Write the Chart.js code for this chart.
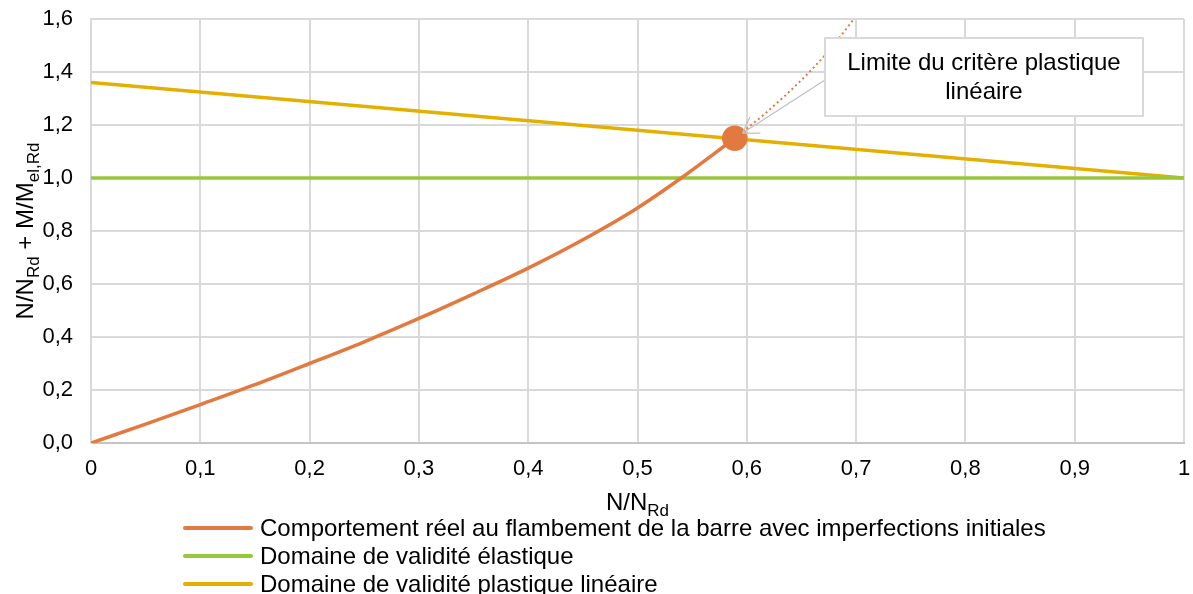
<!DOCTYPE html>
<html>
<head>
<meta charset="utf-8">
<script src="https://cdn.jsdelivr.net/npm/chart.js@4"></script>
<style>
  html, body { margin: 0; padding: 0; background: #fff; }
  #wrap { width: 1193px; height: 594px; }
</style>
</head>
<body>
<div id="wrap"><canvas id="chart" width="1193" height="594"></canvas></div>
<script>
// values
const nRatio = [0, 0.05, 0.1, 0.15, 0.2, 0.25, 0.3, 0.35, 0.4, 0.45, 0.5, 0.54, 0.589];
const realBehaviour = [0, 0.071, 0.145, 0.22, 0.30, 0.382, 0.47, 0.563, 0.66, 0.767, 0.887, 1.0, 1.15];
const extensionX = [0.589, 0.62, 0.65, 0.675, 0.698];
const extensionY = [1.15, 1.255, 1.37, 1.48, 1.6];
const elasticX = [0, 1];
const elasticY = [1, 1];
const plasticX = [0, 1];
const plasticY = [1.36, 1.0];
const seriesLabels = [
  'Comportement réel au flambement de la barre avec imperfections initiales',
  'Domaine de validité élastique',
  'Domaine de validité plastique linéaire'
];
const calloutText = ['Limite du critère plastique', 'linéaire'];
const calloutAt = { x: 0.817, y: 1.381 };

const FONT = '"Liberation Sans", Arial, sans-serif';
const ORANGE = '#E2793F', GREEN = '#96C83C', GOLD = '#E4B000';

function pts(xs, ys) { return xs.map((x, i) => ({ x: x, y: ys[i] })); }
function comma(v, d) { return v.toFixed(d).replace('.', ','); }
function noOverflow(s) { s.paddingTop = 0; s.paddingBottom = 0; s.paddingLeft = 0; s.paddingRight = 0; }

// text made of parts, some subscripted
function partsWidth(ctx, parts) {
  let w = 0;
  parts.forEach(p => { ctx.font = (p.sub ? 17 : 24) + 'px ' + FONT; w += ctx.measureText(p.t).width; });
  return w;
}
function drawParts(ctx, parts, x, y) {
  parts.forEach(p => {
    ctx.font = (p.sub ? 17 : 24) + 'px ' + FONT;
    ctx.fillText(p.t, x, y + (p.sub ? 6 : 0));
    x += ctx.measureText(p.t).width;
  });
}

const extras = {
  id: 'extras',
  afterDraw(chart) {
    const ctx = chart.ctx, area = chart.chartArea;
    const xs = chart.scales.x, ys = chart.scales.y;
    ctx.save();
    ctx.fillStyle = '#000';
    ctx.textBaseline = 'alphabetic';
    ctx.textAlign = 'left';

    // x title
    const xt = [{ t: 'N/N' }, { t: 'Rd', sub: true }];
    drawParts(ctx, xt, (area.left + area.right) / 2 - partsWidth(ctx, xt) / 2, area.bottom + 67);

    // y title
    const yt = [{ t: 'N/N' }, { t: 'Rd', sub: true }, { t: ' + M/M' }, { t: 'el,Rd', sub: true }];
    ctx.save();
    ctx.translate(33, (area.top + area.bottom) / 2);
    ctx.rotate(-Math.PI / 2);
    drawParts(ctx, yt, -partsWidth(ctx, yt) / 2, 0);
    ctx.restore();

    // legend
    const items = chart.data.datasets.filter(d => seriesLabels.includes(d.label));
    items.forEach((d, i) => {
      const yy = area.bottom + 85 + i * 28;
      ctx.strokeStyle = d.borderColor;
      ctx.lineWidth = 4;
      ctx.lineCap = 'round';
      ctx.beginPath();
      ctx.moveTo(185, yy);
      ctx.lineTo(251, yy);
      ctx.stroke();
      ctx.font = '24px ' + FONT;
      ctx.textBaseline = 'middle';
      ctx.fillText(d.label, 260, yy + 1);
    });

    // callout box with leader to the limit point
    const last = realBehaviour.length - 1;
    const px = xs.getPixelForValue(nRatio[last]), py = ys.getPixelForValue(realBehaviour[last]);
    const cx = xs.getPixelForValue(calloutAt.x), cy = ys.getPixelForValue(calloutAt.y);
    const bw = 318, bh = 78;
    const bx = cx - bw / 2, by = cy - bh / 2;
    const sx = bx, sy = cy + 3;
    const dx = sx - px, dy = sy - py, len = Math.hypot(dx, dy);
    const ux = dx / len, uy = dy / len;
    const tx = px + ux * 9, ty = py + uy * 9;
    ctx.strokeStyle = '#bfbfbf';
    ctx.lineWidth = 1.2;
    ctx.lineCap = 'butt';
    ctx.beginPath();
    ctx.moveTo(sx, sy);
    ctx.lineTo(tx, ty);
    const a = Math.atan2(uy, ux);
    [0.56, -0.56].forEach(da => {
      ctx.moveTo(tx, ty);
      ctx.lineTo(tx + 18 * Math.cos(a + da), ty + 18 * Math.sin(a + da));
    });
    ctx.stroke();
    ctx.fillStyle = '#fff';
    ctx.fillRect(bx, by, bw, bh);
    ctx.strokeStyle = '#d9d9d9';
    ctx.lineWidth = 2;
    ctx.strokeRect(bx, by, bw, bh);
    ctx.fillStyle = '#000';
    ctx.font = '24px ' + FONT;
    ctx.textAlign = 'center';
    ctx.textBaseline = 'middle';
    calloutText.forEach((t, i) => ctx.fillText(t, cx, by + 25 + i * 29));
    ctx.restore();
  }
};

new Chart(document.getElementById('chart'), {
  type: 'line',
  data: {
    datasets: [
      {
        label: seriesLabels[0],
        data: pts(nRatio, realBehaviour),
        borderColor: ORANGE,
        backgroundColor: ORANGE,
        borderWidth: 3.5,
        cubicInterpolationMode: 'monotone',
        pointRadius: ctx => ctx.dataIndex === realBehaviour.length - 1 ? 11 : 0,
        pointHoverRadius: 0
      },
      {
        label: 'prolongement',
        data: pts(extensionX, extensionY),
        borderColor: ORANGE,
        borderWidth: 2,
        borderDash: [2, 3],
        cubicInterpolationMode: 'monotone',
        pointRadius: 0
      },
      {
        label: seriesLabels[1],
        data: pts(elasticX, elasticY),
        borderColor: GREEN,
        borderWidth: 3.5,
        pointRadius: 0
      },
      {
        label: seriesLabels[2],
        data: pts(plasticX, plasticY),
        borderColor: GOLD,
        borderWidth: 3.5,
        pointRadius: 0
      }
    ]
  },
  options: {
    responsive: false,
    animation: false,
    devicePixelRatio: 1,
    layout: { autoPadding: false, padding: { top: 19, right: 9, left: 0, bottom: 0 } },
    plugins: { legend: { display: false }, tooltip: { enabled: false } },
    scales: {
      x: {
        type: 'linear',
        min: 0, max: 1,
        grid: { color: '#d9d9d9', lineWidth: 2, drawTicks: false },
        border: { color: '#c4c4c4', width: 2 },
        ticks: {
          stepSize: 0.1,
          padding: 13,
          color: '#000',
          font: { family: FONT, size: 22 },
          maxRotation: 0,
          callback: v => (Math.abs(v) < 1e-9 ? '0' : Math.abs(v - 1) < 1e-9 ? '1' : comma(v, 1))
        },
        afterFit: s => { s.height = 151; noOverflow(s); }
      },
      y: {
        min: 0, max: 1.6,
        grid: { color: '#d9d9d9', lineWidth: 2, drawTicks: false },
        border: { color: '#d9d9d9', width: 2 },
        ticks: {
          stepSize: 0.2,
          padding: 18,
          color: '#000',
          font: { family: FONT, size: 22 },
          callback: v => comma(v, 1)
        },
        afterFit: s => { s.width = 91; noOverflow(s); }
      }
    }
  },
  plugins: [extras]
});
</script>
</body>
</html>
